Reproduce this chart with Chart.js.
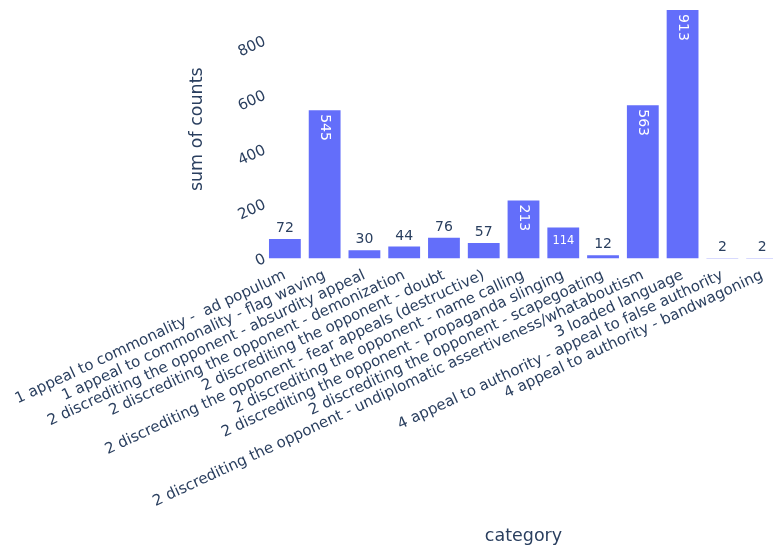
<!DOCTYPE html>
<html><head><meta charset="utf-8">
<script src="https://cdn.jsdelivr.net/npm/chart.js@4/dist/chart.umd.min.js"></script>
<style>html,body{margin:0;padding:0;overflow:hidden;background:#fff;width:773px;height:547px}canvas{display:block}</style>
</head><body>
<canvas id="c" width="782" height="547"></canvas>
<script>
const categories = [
  "1 appeal to commonality -  ad populum",
  "1 appeal to commonality - flag waving",
  "2 discrediting the opponent - absurdity appeal",
  "2 discrediting the opponent - demonization",
  "2 discrediting the opponent - doubt",
  "2 discrediting the opponent - fear appeals (destructive)",
  "2 discrediting the opponent - name calling",
  "2 discrediting the opponent - propaganda slinging",
  "2 discrediting the opponent - scapegoating",
  "2 discrediting the opponent - undiplomatic assertiveness/whataboutism",
  "3 loaded language",
  "4 appeal to authority - appeal to false authority",
  "4 appeal to authority - bandwagoning"
];
const counts = [72, 545, 30, 44, 76, 57, 213, 114, 12, 563, 913, 2, 2];
const yTickValues = [0, 200, 400, 600, 800];
const yMax = 950;

const FONT = "'DejaVu Sans', sans-serif";
const TEXT = '#2a3f5f';
const BAR = '#636efa';
const W = 782, H = 547, PLOT_LEFT = 265, PLOT_BOTTOM = 258.5;
const TICK_ANGLE = 25;

const barLabels = {
  id: 'barLabels',
  afterDatasetsDraw(chart) {
    const ctx = chart.ctx;
    const meta = chart.getDatasetMeta(0);
    const vals = chart.data.datasets[0].data;
    ctx.save();
    meta.data.forEach((bar, i) => {
      const txt = String(vals[i]);
      const p = bar.getProps(['x', 'y', 'base', 'width'], true);
      const bw = p.width, bh = p.base - p.y;
      const fs = 14;
      ctx.font = fs + 'px ' + FONT;
      const tw = ctx.measureText(txt).width;
      const th = fs * 1.1;
      const pad = 3;
      const iw = bw - 2 * pad, ih = bh - 2 * pad;
      if (tw <= iw && th <= ih) {
        ctx.fillStyle = '#fff';
        ctx.textAlign = 'center'; ctx.textBaseline = 'middle';
        ctx.fillText(txt, p.x, p.y + pad + th / 2);
      } else if (th <= iw && tw <= ih) {
        ctx.save();
        ctx.translate(p.x, p.y + 4);
        ctx.rotate(Math.PI / 2);
        ctx.fillStyle = '#fff';
        ctx.textAlign = 'left'; ctx.textBaseline = 'middle';
        ctx.fillText(txt, 0, 0);
        ctx.restore();
      } else if (ih >= th * (iw / tw)) {
        const s = Math.min(1, (bw - 10) / tw, ih / th);
        ctx.font = (fs * s) + 'px ' + FONT;
        ctx.fillStyle = '#fff';
        ctx.textAlign = 'center'; ctx.textBaseline = 'alphabetic';
        ctx.fillText(txt, p.x, p.y + 16.5);
      } else {
        ctx.fillStyle = TEXT;
        ctx.textAlign = 'center'; ctx.textBaseline = 'alphabetic';
        ctx.fillText(txt, p.x, p.y - 7);
      }
    });
    ctx.restore();
  }
};

new Chart(document.getElementById('c'), {
  type: 'bar',
  data: {
    labels: categories,
    datasets: [{
      data: counts,
      backgroundColor: BAR,
      borderWidth: 0,
      barPercentage: 0.8,
      categoryPercentage: 1.0
    }]
  },
  options: {
    responsive: false,
    animation: false,
    devicePixelRatio: 1,
    layout: { padding: 0 },
    plugins: { legend: { display: false }, tooltip: { enabled: false } },
    scales: {
      x: {
        grid: { display: false, drawTicks: false },
        border: { display: false },
        ticks: { autoSkip: false, minRotation: TICK_ANGLE, maxRotation: TICK_ANGLE, padding: 8,
                 font: { family: FONT, size: 15 }, color: TEXT },
        title: { display: true, text: 'category', color: TEXT,
                 font: { family: FONT, size: 17.5 }, padding: { top: 0, bottom: 0 } },
        afterFit(s) { s.height = H - PLOT_BOTTOM; s.paddingLeft = 0; s.paddingRight = 0; }
      },
      y: {
        min: 0, max: yMax,
        afterBuildTicks(s) { s.ticks = yTickValues.map(v => ({ value: v })); },
        grid: { display: false, drawTicks: false },
        border: { display: false },
        ticks: { minRotation: TICK_ANGLE, maxRotation: TICK_ANGLE, padding: 0,
                 font: { family: FONT, size: 15 }, color: TEXT },
        title: { display: true, text: 'sum of counts', color: TEXT,
                 font: { family: FONT, size: 17.5 }, padding: { top: 187, bottom: 0 } },
        afterFit(s) { s.width = PLOT_LEFT; s.paddingTop = 0; s.paddingBottom = 0; }
      }
    }
  },
  plugins: [barLabels]
});
</script>
</body></html>
